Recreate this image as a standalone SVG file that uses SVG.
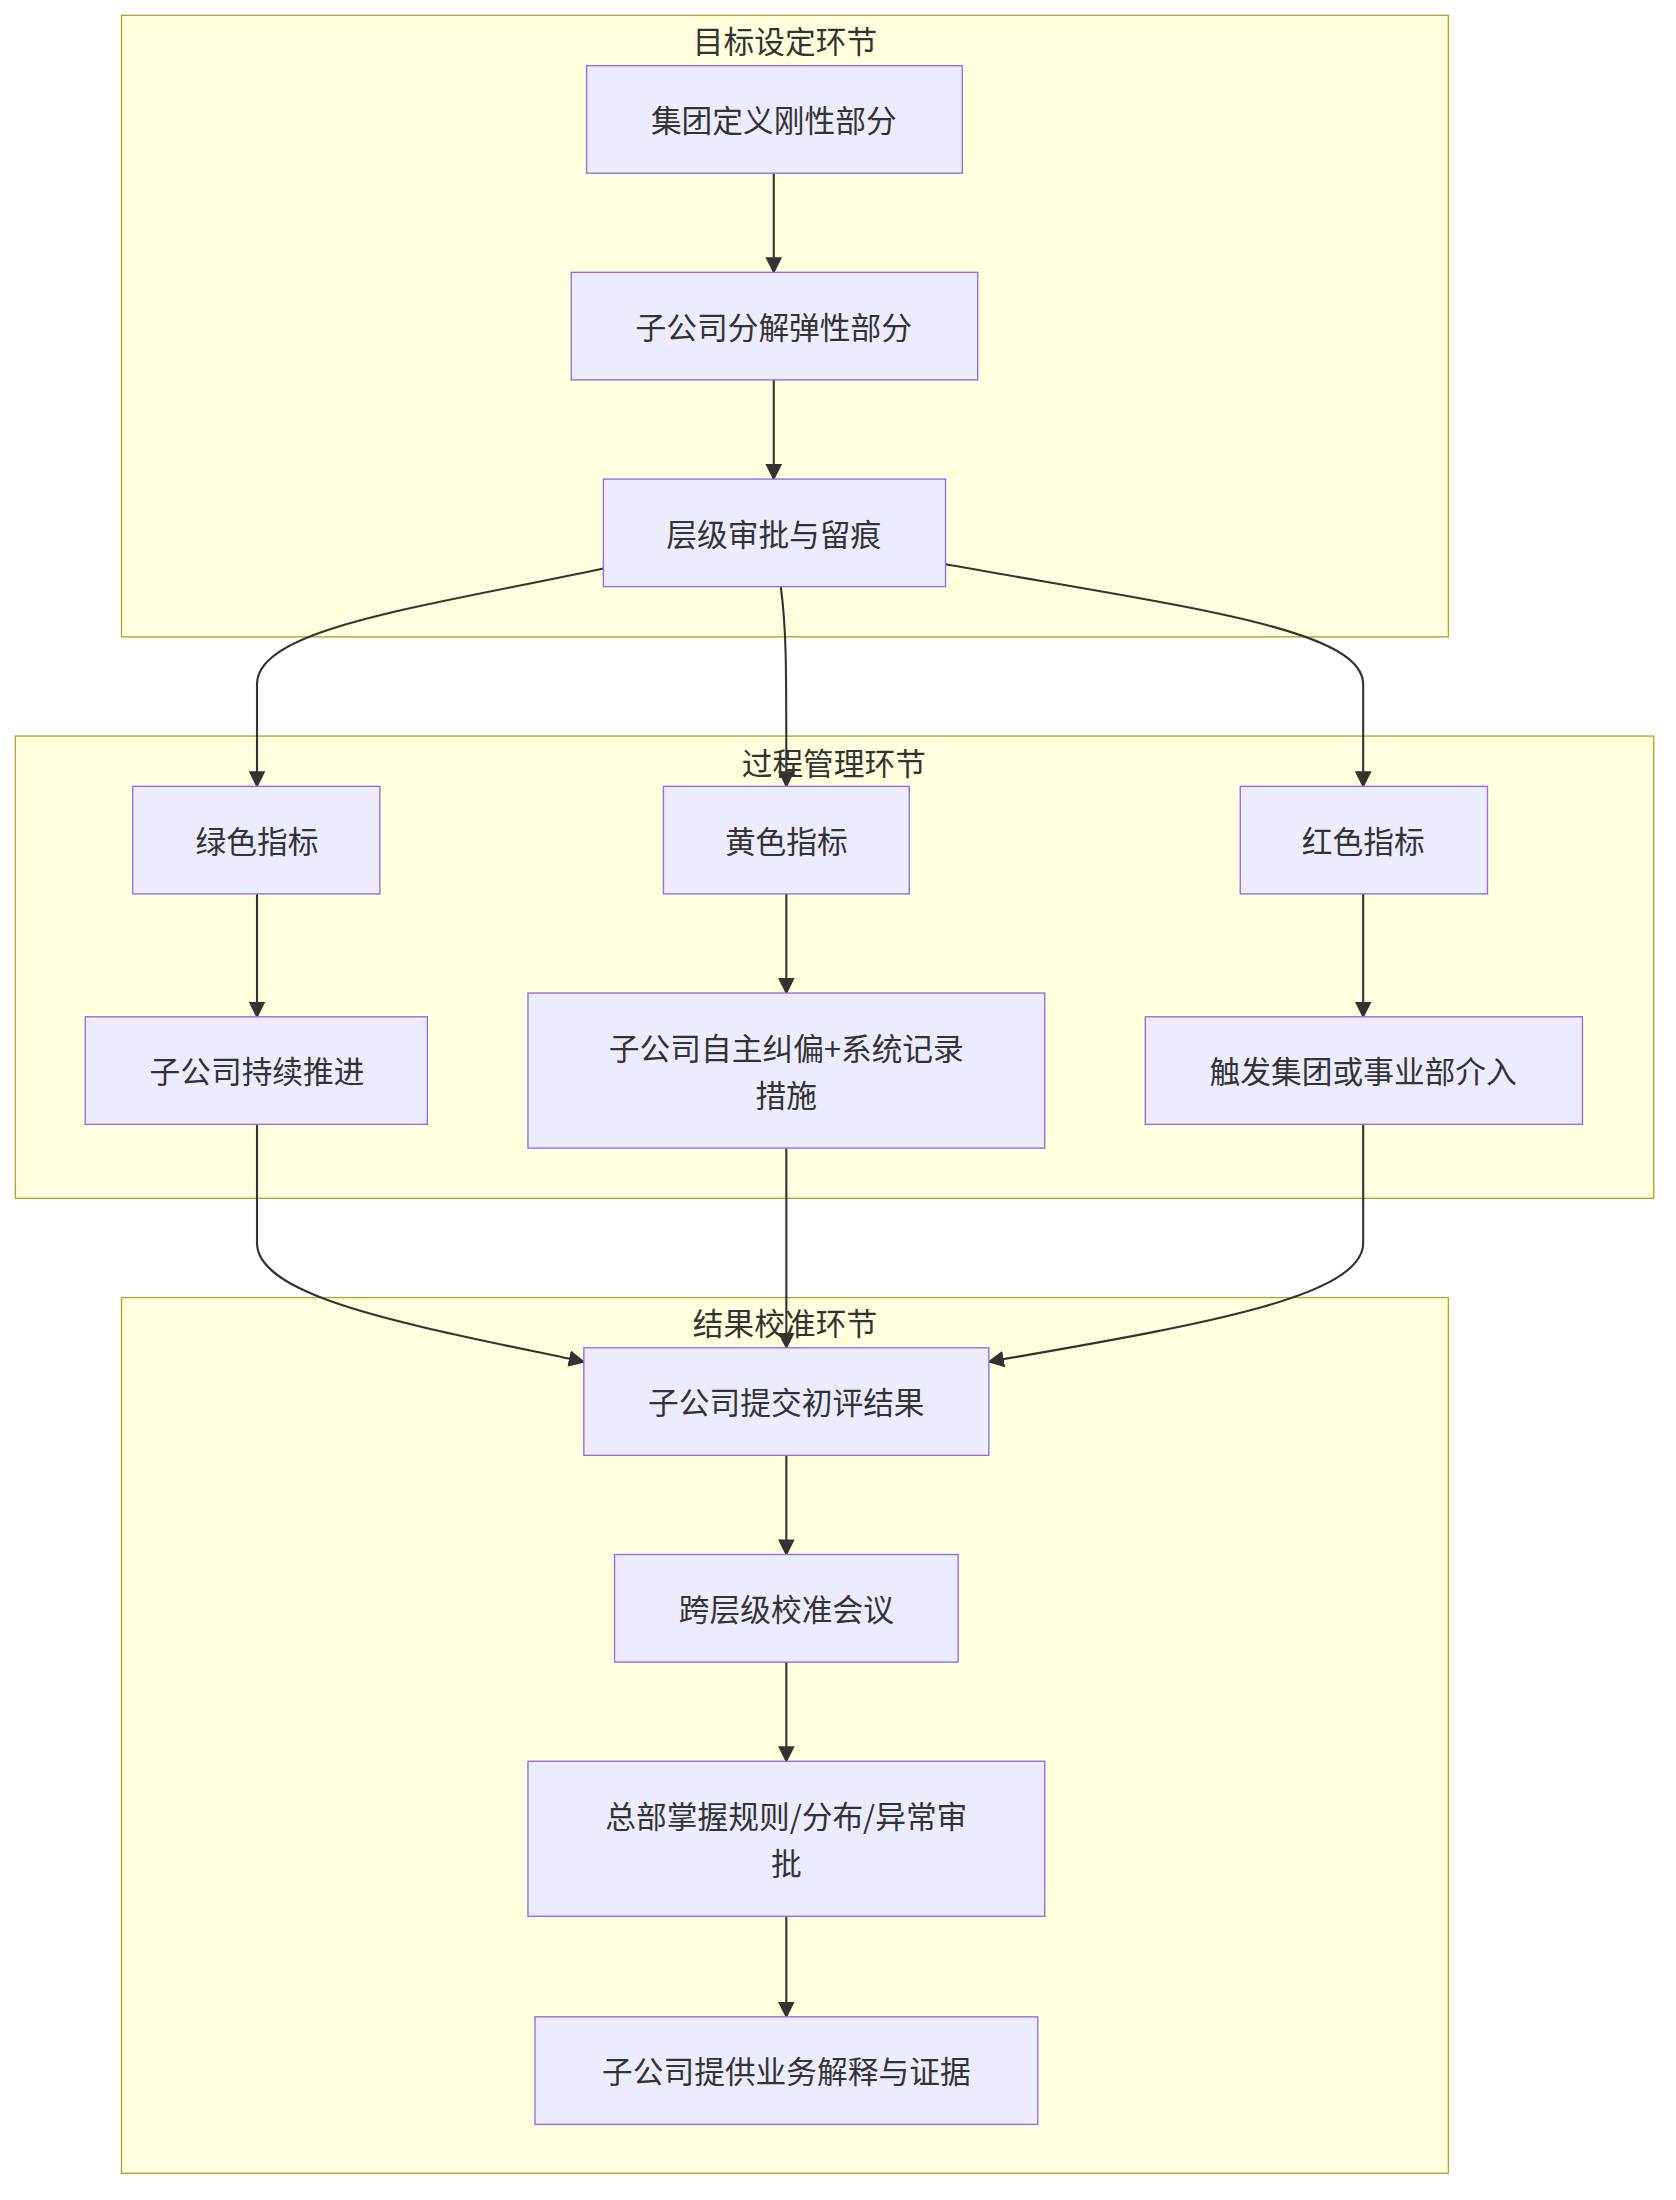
<svg xmlns="http://www.w3.org/2000/svg" width="1676" height="2200" viewBox="0 0 1676 2200">
<defs>
<style>
.c{fill:#FFFFDE;stroke:#AAAA33;stroke-width:1}
.n rect{fill:#ECECFF;stroke:#9370DB;stroke-width:1}
text{font-family:"Noto Sans CJK SC","Liberation Sans",sans-serif;font-size:22px;fill:#333;text-anchor:middle;dominant-baseline:central}
.e path{fill:none;stroke:#333;stroke-width:1.5;marker-end:url(#a)}
</style>
<marker id="a" viewBox="0 0 10 10" refX="9" refY="5" markerWidth="8" markerHeight="8" orient="auto"><path d="M0,0L10,5L0,10z" fill="#333"/></marker>
</defs>
<rect width="1676" height="2200" fill="#fff"/>
<g transform="scale(1.3967)">
<g id="cluster1"><rect class="c" x="87" y="11" width="950" height="445"/><text x="562" y="28">目标设定环节</text></g>
<g id="cluster2"><rect class="c" x="11" y="527" width="1173" height="331"/><text x="597" y="545">过程管理环节</text></g>
<g id="cluster3"><rect class="c" x="87" y="929" width="950" height="627"/><text x="562" y="946">结果校准环节</text></g>
<g class="e" id="edges">
<path d="M554,124V195"/>
<path d="M554,272V343"/>
<path d="M432,407C300,435 184,450 184,490V563"/>
<path d="M559,420C563,450 563,470 563,563"/>
<path d="M677,404C850,435 976,450 976,490V563"/>
<path d="M184,640V728"/>
<path d="M563,640V711"/>
<path d="M976,640V728"/>
<path d="M184,805V890C184,930 300,950 418,975"/>
<path d="M563,822V965"/>
<path d="M976,805V890C976,930 850,950 708,975"/>
<path d="M563,1042V1113"/>
<path d="M563,1190V1261"/>
<path d="M563,1372V1444"/>
</g>
<g class="n" id="A"><rect x="420" y="47" width="269" height="77"/><text x="554" y="85">集团定义刚性部分</text></g>
<g class="n" id="B"><rect x="409" y="195" width="291" height="77"/><text x="554" y="233">子公司分解弹性部分</text></g>
<g class="n" id="C"><rect x="432" y="343" width="245" height="77"/><text x="554" y="381">层级审批与留痕</text></g>
<g class="n" id="G1"><rect x="95" y="563" width="177" height="77"/><text x="184" y="601">绿色指标</text></g>
<g class="n" id="Y1"><rect x="475" y="563" width="176" height="77"/><text x="563" y="601">黄色指标</text></g>
<g class="n" id="R1"><rect x="888" y="563" width="177" height="77"/><text x="976" y="601">红色指标</text></g>
<g class="n" id="G2"><rect x="61" y="728" width="245" height="77"/><text x="184" y="766">子公司持续推进</text></g>
<g class="n" id="Y2"><rect x="378" y="711" width="370" height="111"/><text x="563" y="749">子公司自主纠偏+系统记录</text><text x="563" y="783">措施</text></g>
<g class="n" id="R2"><rect x="820" y="728" width="313" height="77"/><text x="976" y="766">触发集团或事业部介入</text></g>
<g class="n" id="D"><rect x="418" y="965" width="290" height="77"/><text x="563" y="1003">子公司提交初评结果</text></g>
<g class="n" id="E"><rect x="440" y="1113" width="246" height="77"/><text x="563" y="1151">跨层级校准会议</text></g>
<g class="n" id="F"><rect x="378" y="1261" width="370" height="111"/><text x="563" y="1299">总部掌握规则/分布/异常审</text><text x="563" y="1333">批</text></g>
<g class="n" id="H"><rect x="383" y="1444" width="360" height="77"/><text x="563" y="1482">子公司提供业务解释与证据</text></g>
</g>
</svg>
